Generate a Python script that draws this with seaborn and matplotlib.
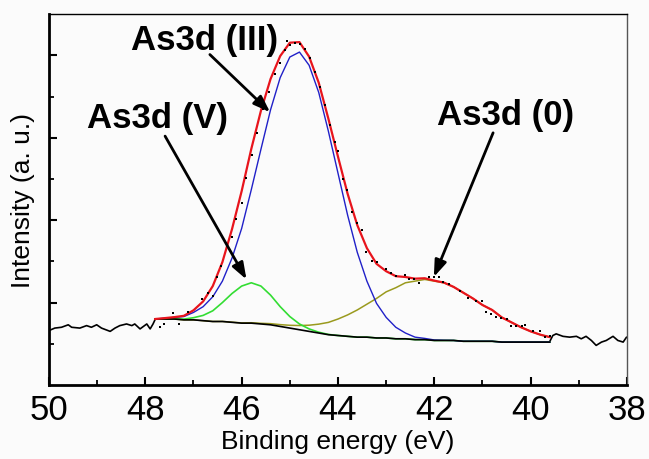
import numpy as np
import pandas as pd
import matplotlib
matplotlib.use("Agg")
import matplotlib.pyplot as plt
import seaborn as sns

# Fitted region (binding energy, eV)
energy = [47.8, 47.6, 47.4, 47.2, 47.0, 46.8, 46.6, 46.4, 46.2, 46.0,
          45.8, 45.6, 45.4, 45.2, 45.0, 44.8, 44.6, 44.4, 44.2, 44.0,
          43.8, 43.6, 43.4, 43.2, 43.0, 42.8, 42.6, 42.4, 42.2, 42.0,
          41.8, 41.6, 41.4, 41.2, 41.0, 40.8, 40.6, 40.4, 40.2, 40.0,
          39.8, 39.6]

# Shirley-type background
background = [0.80, 0.80, 0.80, 0.79, 0.79, 0.78, 0.77, 0.77, 0.76, 0.75,
              0.75, 0.74, 0.73, 0.71, 0.69, 0.67, 0.65, 0.63, 0.61, 0.60,
              0.59, 0.58, 0.58, 0.57, 0.57, 0.56, 0.56, 0.55, 0.55, 0.54,
              0.54, 0.54, 0.53, 0.53, 0.53, 0.53, 0.52, 0.52, 0.52, 0.52,
              0.52, 0.52]

# component heights above the background
peak_III = [0.00, 0.01, 0.02, 0.04, 0.09, 0.17, 0.30, 0.49, 0.78, 1.15,
            1.62, 2.12, 2.61, 3.02, 3.29, 3.37, 3.23, 2.92, 2.47, 1.97,
            1.47, 1.03, 0.68, 0.42, 0.25, 0.14, 0.07, 0.03, 0.015, 0.006,
            0.002, 0, 0, 0, 0, 0, 0, 0, 0, 0,
            0, 0]
peak_V = [0, 0.001, 0.003, 0.009, 0.026, 0.064, 0.13, 0.23, 0.35, 0.45,
          0.49, 0.46, 0.36, 0.24, 0.14, 0.07, 0.03, 0.01, 0.003, 0,
          0, 0, 0, 0, 0, 0, 0, 0, 0, 0,
          0, 0, 0, 0, 0, 0, 0, 0, 0, 0,
          0, 0]
peak_0 = [0, 0, 0, 0, 0, 0, 0, 0.001, 0.002, 0.003,
          0.005, 0.008, 0.014, 0.022, 0.034, 0.051, 0.075, 0.108, 0.149, 0.20,
          0.26, 0.33, 0.40, 0.48, 0.56, 0.62, 0.68, 0.71, 0.73, 0.72,
          0.70, 0.65, 0.59, 0.52, 0.44, 0.38, 0.30, 0.24, 0.18, 0.13,
          0.09, 0.06]

# raw data points
data_x = [47.70, 47.61, 47.42, 47.30, 47.11, 46.83, 46.69, 46.59, 46.52, 46.42,
          46.21, 46.11, 46.00, 45.90, 45.79, 45.69, 45.55, 45.43, 45.31, 45.21,
          45.10, 45.06, 45.00, 44.90, 44.79, 44.69, 44.59, 44.48, 44.38, 44.27,
          44.17, 44.07, 44.00, 43.89, 43.81, 43.71, 43.60, 43.50, 43.41, 43.29,
          43.18, 43.01, 42.90, 42.80, 42.61, 42.52, 42.42, 42.32, 42.11, 42.01,
          41.90, 41.82, 41.70, 41.47, 41.30, 41.13, 41.02, 40.92, 40.82, 40.71,
          40.61, 40.50, 40.40, 40.30, 40.19, 40.12, 39.95, 39.81, 39.71, 39.60]
data_y = [0.70, 0.74, 0.87, 0.74, 0.89, 1.04, 1.12, 1.08, 1.31, 1.44,
          1.80, 2.01, 2.21, 2.51, 2.79, 3.06, 3.35, 3.55, 3.77, 3.91,
          4.07, 4.18, 4.13, 4.15, 4.14, 4.08, 3.97, 3.80, 3.62, 3.40,
          3.15, 2.95, 2.84, 2.50, 2.37, 2.10, 1.96, 1.88, 1.61, 1.51,
          1.49, 1.41, 1.36, 1.32, 1.34, 1.28, 1.28, 1.24, 1.31, 1.31,
          1.31, 1.25, 1.22, 1.14, 1.06, 1.02, 1.02, 0.88, 0.86, 0.83,
          0.81, 0.80, 0.72, 0.72, 0.72, 0.73, 0.66, 0.66, 0.58, 0.60]

# raw spectrum outside the fitted window
left_x = [50.00, 49.88, 49.74, 49.60, 49.53, 49.36, 49.22, 49.12, 49.01, 48.91,
          48.73, 48.63, 48.53, 48.39, 48.28, 48.22, 48.11, 47.97, 47.90, 47.84, 47.80]
left_y = [0.66, 0.69, 0.70, 0.73, 0.70, 0.69, 0.72, 0.70, 0.73, 0.69,
          0.65, 0.69, 0.72, 0.74, 0.72, 0.74, 0.68, 0.74, 0.68, 0.74, 0.79]
right_x = [39.61, 39.54, 39.47, 39.33, 39.19, 39.05, 38.95, 38.85, 38.74, 38.64,
           38.53, 38.43, 38.29, 38.19, 38.08, 38.01]
right_y = [0.52, 0.60, 0.62, 0.59, 0.58, 0.59, 0.56, 0.59, 0.54, 0.48,
           0.52, 0.54, 0.59, 0.54, 0.52, 0.58]

labels = ["As3d (III)", "As3d (V)", "As3d (0)"]
label_pos = [(46.78, 4.19), (47.74, 3.24), (40.52, 3.28)]
arrow_from = [(46.66, 4.01), (47.59, 3.02), (40.78, 3.06)]
arrow_to = [(45.41, 3.31), (45.90, 1.28), (42.01, 1.31)]

sns.set_style("ticks")
plt.rcParams["font.family"] = ["Liberation Sans", "DejaVu Sans"]
plt.rcParams.update({"text.color": "black", "axes.labelcolor": "black",
                     "xtick.color": "black", "ytick.color": "black",
                     "axes.edgecolor": "black"})

bg = np.array(background)
fit = pd.DataFrame({
    "energy": energy,
    "background": bg,
    "III": bg + np.array(peak_III),
    "V": bg + np.array(peak_V),
    "zero": bg + np.array(peak_0),
})
fit["envelope"] = bg + np.array(peak_III) + np.array(peak_V) + np.array(peak_0)

fig = plt.figure(figsize=(6.49, 4.60), dpi=100)
fig.patch.set_facecolor("#fbfbfb")
ax = fig.add_axes([0.0755, 0.161, 0.8906, 0.806])
ax.set_facecolor("#fbfbfb")

kw = dict(estimator=None, sort=False, ax=ax, legend=False)
sns.lineplot(x=left_x, y=left_y, color="black", lw=1.2, **kw)
sns.lineplot(x=right_x, y=right_y, color="black", lw=1.2, **kw)
sns.lineplot(data=fit, x="energy", y="zero", color="#9a9a1e", lw=1.1, **kw)
sns.lineplot(data=fit, x="energy", y="V", color="#33dd33", lw=1.2, **kw)
sns.lineplot(data=fit, x="energy", y="III", color="#2020c8", lw=1.0, **kw)
sns.lineplot(data=fit, x="energy", y="background", color="black", lw=1.2, **kw)
sns.lineplot(data=fit, x="energy", y="envelope", color="#e8141c", lw=1.6, **kw)
sns.scatterplot(x=data_x, y=data_y, color="black", marker="s", s=4.5,
                linewidth=0, ax=ax, legend=False, zorder=5)

for text, pos, start, tip in zip(labels, label_pos, arrow_from, arrow_to):
    ax.annotate("", xy=tip, xytext=start,
                arrowprops=dict(arrowstyle="-|>,head_length=0.5,head_width=0.18",
                                color="black", lw=2, mutation_scale=20,
                                shrinkA=0, shrinkB=0))
    ax.text(pos[0], pos[1], text, fontsize=25, fontweight="bold",
            ha="center", va="center", color="black")

ax.set_xlim(50, 38)
ax.set_ylim(0, 4.5)
ax.set_xticks([50, 48, 46, 44, 42, 40, 38])
ax.set_xticks([49, 47, 45, 43, 41, 39], minor=True)
ax.set_yticks([1, 2, 3, 4])
ax.set_yticks([0.5, 1.5, 2.5, 3.5], minor=True)
ax.set_yticklabels([])
ax.tick_params(axis="both", which="major", direction="in", length=6, width=1.5,
               labelsize=25, pad=6, colors="black")
ax.tick_params(axis="both", which="minor", direction="in", length=3.5, width=1.3,
               colors="black")

for side in ["left", "bottom"]:
    ax.spines[side].set_linewidth(2)
    ax.spines[side].set_color("black")
for side in ["top", "right"]:
    ax.spines[side].set_visible(True)
    ax.spines[side].set_linewidth(1)
ax.spines["top"].set_color("black")
ax.spines["right"].set_color("#555555")

ax.set_xlabel("Binding energy (eV)", fontsize=19, labelpad=2, color="black")
ax.set_ylabel("Intensity (a. u.)", fontsize=19, labelpad=4, color="black")

fig.savefig("out.png", dpi=100, facecolor=fig.get_facecolor())
